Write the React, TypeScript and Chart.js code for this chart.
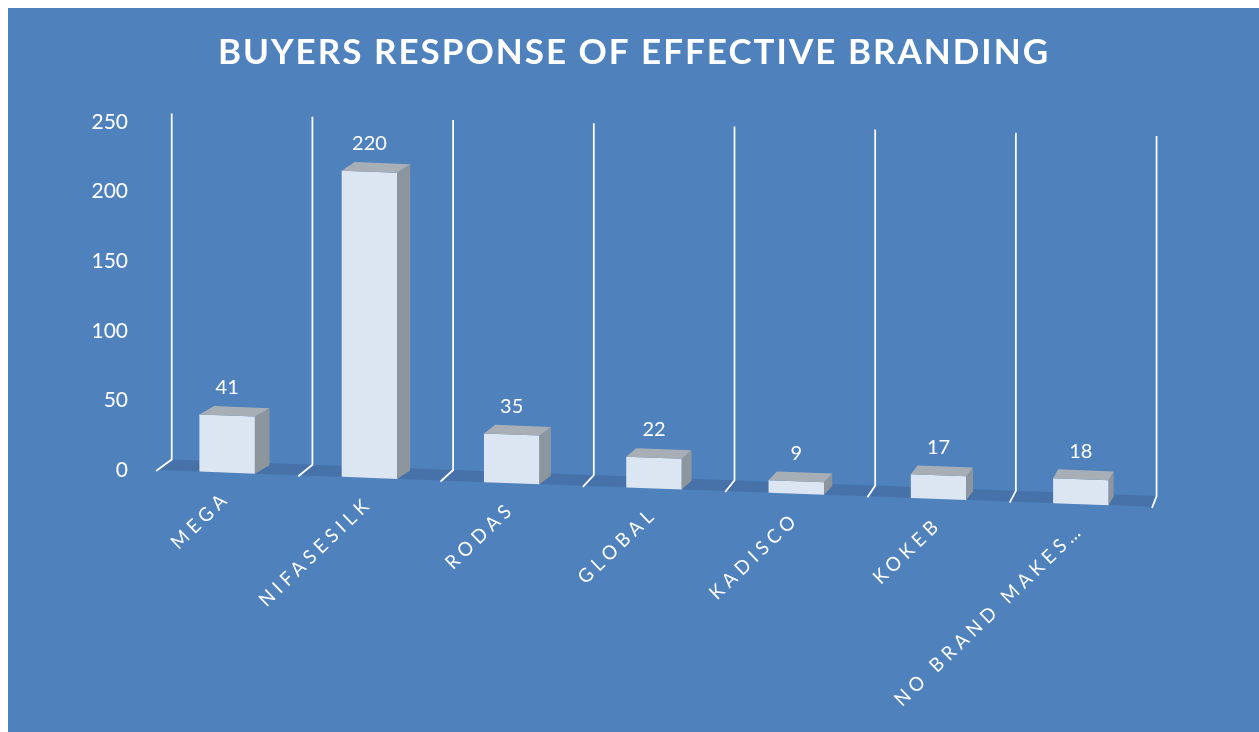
import React, { useEffect, useRef } from "react";
import { Chart, registerables, CategoryScale } from "chart.js";

Chart.register(...registerables);

const TITLE = "BUYERS RESPONSE OF EFFECTIVE BRANDING";
const CATEGORIES = ["MEGA", "NIFASESILK", "RODAS", "GLOBAL", "KADISCO", "KOKEB", "NO BRAND MAKES…"];
const RESPONSES = [41, 220, 35, 22, 9, 17, 18];
const Y_MIN = 0;
const Y_MAX = 250;
const Y_STEP = 50;

const FONT = "Lato, 'Open Sans', sans-serif";
const BG = "#4F81BD";
const FLOOR = "#4672A9";
const FRONT = "#DCE6F2";
const TOP = "#A7AEB5";
const SIDE = "#8D959D";
const SHEAR = 0.037;
const DEPTH_Y = 9;
const FLOOR_DEPTH_Y = 11;

function depthAt(x: number) {
  return Math.max(3, 0.0112 * (1552 - x));
}

function applyShear(ctx: CanvasRenderingContext2D, chart: any) {
  const x0 = chart.chartArea.left;
  ctx.transform(1, SHEAR, 0, 1, 0, -SHEAR * x0);
}

class SpacedCategoryScale extends CategoryScale {
  static id = "spacedCategory";
  static defaults = (CategoryScale as any).defaults;
  drawLabels(area: any) {
    const ctx = (this as any).ctx as CanvasRenderingContext2D;
    ctx.save();
    applyShear(ctx, (this as any).chart);
    (ctx as any).letterSpacing = "5px";
    super.drawLabels(area);
    ctx.restore();
  }
}
Chart.register(SpacedCategoryScale as any);

const bar3d = {
  id: "bar3d",
  beforeDatasetsDraw(chart: any) {
    const { ctx, chartArea } = chart;
    const L = chartArea.left;
    const R = chartArea.right;
    const base = chartArea.bottom;
    ctx.save();
    applyShear(ctx, chart);
    // floor
    ctx.fillStyle = FLOOR;
    ctx.beginPath();
    ctx.moveTo(L, base);
    ctx.lineTo(R, base);
    ctx.lineTo(R + depthAt(R), base - FLOOR_DEPTH_Y);
    ctx.lineTo(L + depthAt(L), base - FLOOR_DEPTH_Y);
    ctx.closePath();
    ctx.fill();
    // category separators
    const xs = chart.scales.x;
    ctx.strokeStyle = "#FFFFFF";
    ctx.lineWidth = 1.75;
    for (let i = 0; i <= CATEGORIES.length; i++) {
      const bx = xs.getPixelForValue(i - 0.5);
      const d = depthAt(bx);
      const topY = chartArea.top - 9 - 0.014 * (bx - L);
      ctx.beginPath();
      ctx.moveTo(bx + d, topY);
      ctx.lineTo(bx + d, base - FLOOR_DEPTH_Y);
      ctx.lineTo(bx, base + 1);
      ctx.stroke();
    }
  },
  afterDatasetsDraw(chart: any) {
    const { ctx, chartArea } = chart;
    const L = chartArea.left;
    const meta = chart.getDatasetMeta(0);
    const labels: { x: number; y: number; t: string }[] = [];
    meta.data.forEach((bar: any, i: number) => {
      const { x, y, base, width } = bar.getProps(["x", "y", "base", "width"], true);
      const l = x - width / 2;
      const r = x + width / 2;
      const d = depthAt(r);
      ctx.fillStyle = SIDE;
      ctx.beginPath();
      ctx.moveTo(r, y);
      ctx.lineTo(r + d, y - DEPTH_Y);
      ctx.lineTo(r + d, base - DEPTH_Y);
      ctx.lineTo(r, base);
      ctx.closePath();
      ctx.fill();
      ctx.fillStyle = TOP;
      ctx.beginPath();
      ctx.moveTo(l, y);
      ctx.lineTo(l + d, y - DEPTH_Y);
      ctx.lineTo(r + d, y - DEPTH_Y);
      ctx.lineTo(r, y);
      ctx.closePath();
      ctx.fill();
      labels.push({ x: x, y: y - DEPTH_Y - 9 + SHEAR * (x - L), t: String(RESPONSES[i]) });
    });
    ctx.restore();
    ctx.save();
    ctx.fillStyle = "#FFFFFF";
    ctx.font = `20px ${FONT}`;
    ctx.textAlign = "center";
    ctx.textBaseline = "bottom";
    labels.forEach((lb) => ctx.fillText(lb.t, lb.x, lb.y));
    ctx.restore();
  },
  afterDraw(chart: any) {
    const { ctx } = chart;
    ctx.save();
    ctx.fillStyle = "#FFFFFF";
    ctx.font = `bold 35px ${FONT}`;
    (ctx as any).letterSpacing = "2px";
    ctx.textAlign = "center";
    ctx.textBaseline = "middle";
    ctx.fillText(TITLE, 626, 45);
    ctx.restore();
  },
};

export default function App() {
  const ref = useRef<HTMLCanvasElement | null>(null);
  useEffect(() => {
    document.documentElement.style.overflow = "hidden";
    if (!ref.current) return;
    const chart = new Chart(ref.current, {
      type: "bar",
      data: {
        labels: CATEGORIES,
        datasets: [
          {
            label: "Responses",
            data: RESPONSES,
            backgroundColor: FRONT,
            borderWidth: 0,
            barPercentage: 0.39,
            categoryPercentage: 1,
            clip: false as any,
          },
        ],
      },
      options: {
        animation: false,
        responsive: true,
        maintainAspectRatio: false,
        layout: { padding: { top: 114, right: 107, left: 0, bottom: 0 } },
        plugins: { legend: { display: false }, title: { display: false }, tooltip: { enabled: false } },
        scales: {
          x: {
            type: "spacedCategory" as any,
            grid: { display: false, drawTicks: false },
            border: { display: false },
            ticks: {
              color: "#FFFFFF",
              font: { family: FONT, size: 19 },
              minRotation: 45,
              maxRotation: 45,
              padding: 14,
              autoSkip: false,
            },
            afterFit: (s: any) => {
              s.height = 262;
            },
          },
          y: {
            min: Y_MIN,
            max: Y_MAX,
            grid: { display: false },
            border: { display: false },
            ticks: { stepSize: Y_STEP, color: "#FFFFFF", font: { family: FONT, size: 21 }, padding: 20 },
            afterFit: (s: any) => {
              s.width = 148;
            },
          },
        },
      },
      plugins: [bar3d],
    });
    return () => chart.destroy();
  }, []);
  return (
    <div style={{ position: "fixed", left: 8, top: 8, right: 0, bottom: 0, background: BG }}>
      <canvas ref={ref} />
    </div>
  );
}
